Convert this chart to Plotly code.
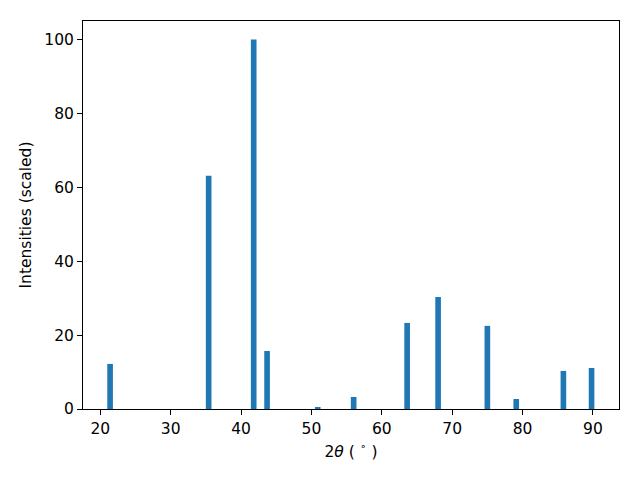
import plotly.graph_objects as go

two_theta = [21.4, 35.4, 41.8, 43.7, 50.9, 56.0, 63.6, 68.0, 75.0, 79.1, 85.8, 89.8]
intensity = [12.2, 63.1, 100.0, 15.7, 0.5, 3.25, 23.3, 30.3, 22.5, 2.7, 10.3, 11.1]

fig = go.Figure(go.Bar(
    x=two_theta, y=intensity, width=0.8,
    marker=dict(color="#1f77b4", line=dict(width=0)),
))

FS = 15.5
axis_common = dict(
    showgrid=False, zeroline=False, showline=True, linecolor="black", linewidth=1,
    mirror=True, ticks="outside", ticklen=5, tickwidth=1, tickcolor="black",
    tickfont=dict(family="DejaVu Sans", size=FS, color="black"),
)

fig.update_layout(
    width=640, height=480,
    margin=dict(l=83, r=21, t=21, b=71),
    paper_bgcolor="white", plot_bgcolor="white",
    showlegend=False,
    font=dict(family="DejaVu Sans", size=FS, color="black"),
    xaxis=dict(range=[17.55, 93.7], tickvals=[20, 30, 40, 50, 60, 70, 80, 90],
               title=dict(text="2<i>θ</i> ( <sup>∘</sup> )", standoff=9,
                          font=dict(family="DejaVu Sans", size=FS, color="black")),
               **axis_common),
    yaxis=dict(range=[0, 105], tickvals=[0, 20, 40, 60, 80, 100],
               title=dict(text="Intensities (scaled)", standoff=8,
                          font=dict(family="DejaVu Sans", size=FS, color="black")),
               **axis_common),
)

fig.write_html("out.html", config={"displayModeBar": False},
               post_script="document.body.style.margin='0';")
